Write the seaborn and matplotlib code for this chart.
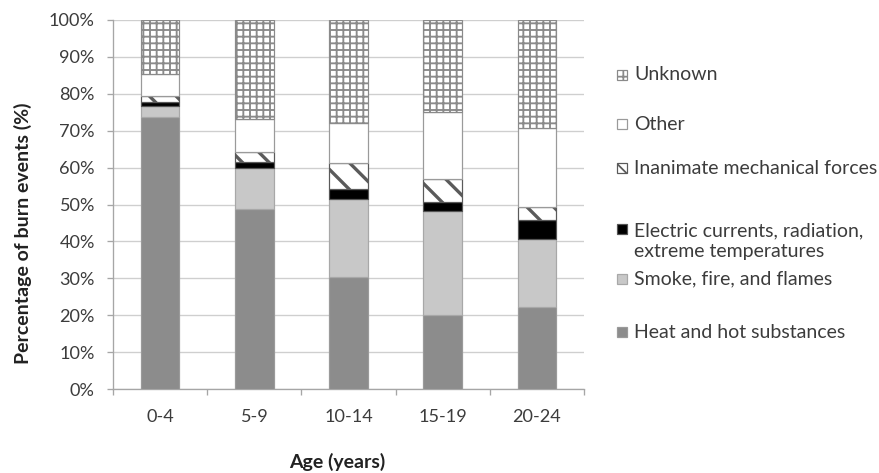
import matplotlib
matplotlib.use("Agg")
import matplotlib.pyplot as plt
import seaborn as sns
import numpy as np
from matplotlib.patches import Rectangle

# Share of burn events by cause, per age group (%)
age_groups = ["0-4", "5-9", "10-14", "15-19", "20-24"]
heat = [73.7, 48.7, 30.4, 20.1, 22.1]
smoke = [3.1, 11.3, 21.0, 28.2, 18.5]
electric = [0.9, 1.4, 2.7, 2.3, 5.2]
mechanical = [1.6, 2.9, 7.2, 6.2, 3.6]
other = [6.2, 8.9, 10.7, 18.3, 21.4]
unknown = [14.5, 26.8, 28.0, 24.9, 29.2]

series_labels = [
    "Heat and hot substances",
    "Smoke, fire, and flames",
    "Electric currents, radiation,\nextreme temperatures",
    "Inanimate mechanical forces",
    "Other",
    "Unknown",
]
y_ticks = [0, 10, 20, 30, 40, 50, 60, 70, 80, 90, 100]

sns.set_theme(style="white")
plt.rcParams["font.family"] = ["Lato", "DejaVu Sans"]
text_color = "#3c3c3c"

# facecolor, edgecolor, hatch, hatch line width
styles = [
    ("#8c8c8c", "#9a9a9a", "", 1.0),
    ("#c8c8c8", "#a8a8a8", "", 1.0),
    ("#000000", "#555555", "", 1.0),
    ("#ffffff", "#5a5a5a", "\\", 3.0),
    ("#ffffff", "#9a9a9a", "", 1.0),
    ("#ffffff", "#8a8a8a", "++", 1.7),
]
series = [heat, smoke, electric, mechanical, other, unknown]

W, H, DPI = 879, 473, 80
fig = plt.figure(figsize=(W / DPI, H / DPI), dpi=DPI)
ax = fig.add_axes([113 / W, 1 - 389 / H, 471 / W, 369 / H])

bottom = np.zeros(len(age_groups))
for vals, (fc, ec, hatch, hlw) in zip(series, styles):
    plt.rcParams["hatch.linewidth"] = hlw
    n_before = len(ax.patches)
    sns.barplot(x=age_groups, y=vals, bottom=bottom, color=fc, saturation=1,
                width=0.41, edgecolor=ec, linewidth=1.1, hatch=hatch or None,
                ax=ax, zorder=3)
    for p in ax.patches[n_before:]:
        p.set_facecolor(fc)
        p.set_edgecolor(ec)
        if hasattr(p, "set_hatch_linewidth"):
            p.set_hatch_linewidth(hlw)
    bottom = bottom + np.array(vals)

ax.set_ylim(0, 100)
ax.set_xlim(-0.5, len(age_groups) - 0.5)
ax.set_yticks(y_ticks)
ax.set_yticklabels([f"{t}%" for t in y_ticks])
ax.yaxis.grid(True, color="#cfcfcf", linewidth=1.2, zorder=0)
ax.set_axisbelow(True)

for s in ["top", "right"]:
    ax.spines[s].set_visible(False)
for s in ["left", "bottom"]:
    ax.spines[s].set_color("#a6a6a6")
    ax.spines[s].set_linewidth(1.2)

ax.tick_params(axis="y", which="major", left=True, length=5.4, width=1.2,
               color="#a6a6a6", pad=11, labelsize=16.3, labelcolor=text_color)
ax.tick_params(axis="x", which="major", bottom=False, length=0, pad=18,
               labelsize=16.3, labelcolor=text_color)
ax.set_xticks(np.arange(-0.5, len(age_groups)), minor=True)
ax.tick_params(axis="x", which="minor", bottom=True, length=5.4, width=1.2,
               color="#a6a6a6")

ax.set_xlabel("Age (years)", fontsize=17.5, fontweight="bold", color="#222222")
ax.set_ylabel("Percentage of burn events (%)", fontsize=17.5,
              fontweight="bold", color="#222222")
ax.xaxis.set_label_coords(0.477, -0.172)
ax.yaxis.set_label_coords(-0.172, 0.423)

# Legend entries, top to bottom: Unknown ... Heat
# (series index, box centre y, text centre y) in pixels from the top
legend_rows = [
    (5, 75, 75),
    (4, 124, 124),
    (3, 168, 168),
    (2, 229, 241),
    (1, 279, 279),
    (0, 332, 332),
]
for idx, box_y, text_y in legend_rows:
    fc, ec, hatch, hlw = styles[idx]
    plt.rcParams["hatch.linewidth"] = min(hlw, 1.6)
    rect = Rectangle((617 / W, 1 - (box_y + 5) / H), 10 / W, 10 / H,
                     transform=fig.transFigure, facecolor=fc, edgecolor=ec,
                     linewidth=1.1, hatch=hatch or None)
    fig.patches.append(rect)
    fig.text(634 / W, 1 - text_y / H, series_labels[idx], fontsize=17.5,
             color=text_color, va="center", ha="left", linespacing=1.3)

fig.savefig("out.png", dpi=DPI, facecolor="white")
